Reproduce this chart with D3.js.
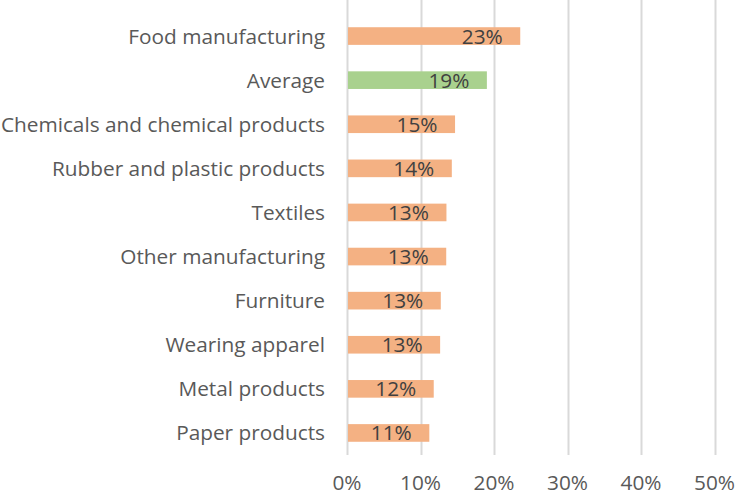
<!DOCTYPE html>
<html><head><meta charset="utf-8">
<script src="https://cdn.jsdelivr.net/npm/d3@7"></script>
<style>body{margin:0;background:#fff}svg{display:block}</style>
</head><body>
<svg id="c" width="737" height="495"></svg>
<script>
const categories = ["Food manufacturing","Average","Chemicals and chemical products","Rubber and plastic products","Textiles","Other manufacturing","Furniture","Wearing apparel","Metal products","Paper products"];
const values = [0.2357,0.1903,0.147,0.1426,0.1353,0.135,0.1276,0.1267,0.118,0.112];
const labels = ["23%","19%","15%","14%","13%","13%","13%","13%","12%","11%"];
const highlight = ["Average"];
const ticks = [0,0.1,0.2,0.3,0.4,0.5];

const svg = d3.select("#c");
const font = "'Open Sans', sans-serif";
const fs = 20.8;
const x = d3.scaleLinear().domain([0,0.5]).range([347,714.5]);
const y = d3.scaleBand().domain(categories).range([14,455]).paddingInner(0.6).paddingOuter(0.3);

// gridlines
svg.append("g").selectAll("line").data(ticks).join("line")
  .attr("x1",d=>Math.round(x(d))+0.5).attr("x2",d=>Math.round(x(d))+0.5)
  .attr("y1",0).attr("y2",455)
  .attr("stroke","#d9d9d9").attr("stroke-width",2);

// bars
svg.append("g").selectAll("rect").data(categories).join("rect")
  .attr("x",x(0)+1).attr("y",d=>y(d))
  .attr("width",(d,i)=>x(values[i])-x(0)-1).attr("height",y.bandwidth())
  .attr("fill",d=>highlight.includes(d)?"#a9d18e":"#f4b183");

// data labels
svg.append("g").selectAll("text").data(categories).join("text")
  .attr("x",(d,i)=>x(values[i])-38).attr("y",d=>y(d)+y.bandwidth()/2)
  .attr("dy","0.36em").attr("text-anchor","middle")
  .attr("font-family",font).attr("font-size",fs).attr("fill","#404040")
  .text((d,i)=>labels[i]);

// category labels
svg.append("g").selectAll("text").data(categories).join("text")
  .attr("x",325).attr("y",d=>y(d)+y.bandwidth()/2)
  .attr("dy","0.36em").attr("text-anchor","end")
  .attr("font-family",font).attr("font-size",fs).attr("fill","#595959")
  .text(d=>d);

// x tick labels
svg.append("g").selectAll("text").data(ticks).join("text")
  .attr("x",d=>x(d)).attr("y",483).attr("dy","0.36em").attr("text-anchor","middle")
  .attr("font-family",font).attr("font-size",fs).attr("fill","#595959")
  .text(d3.format(".0%"));
</script>
</body></html>
